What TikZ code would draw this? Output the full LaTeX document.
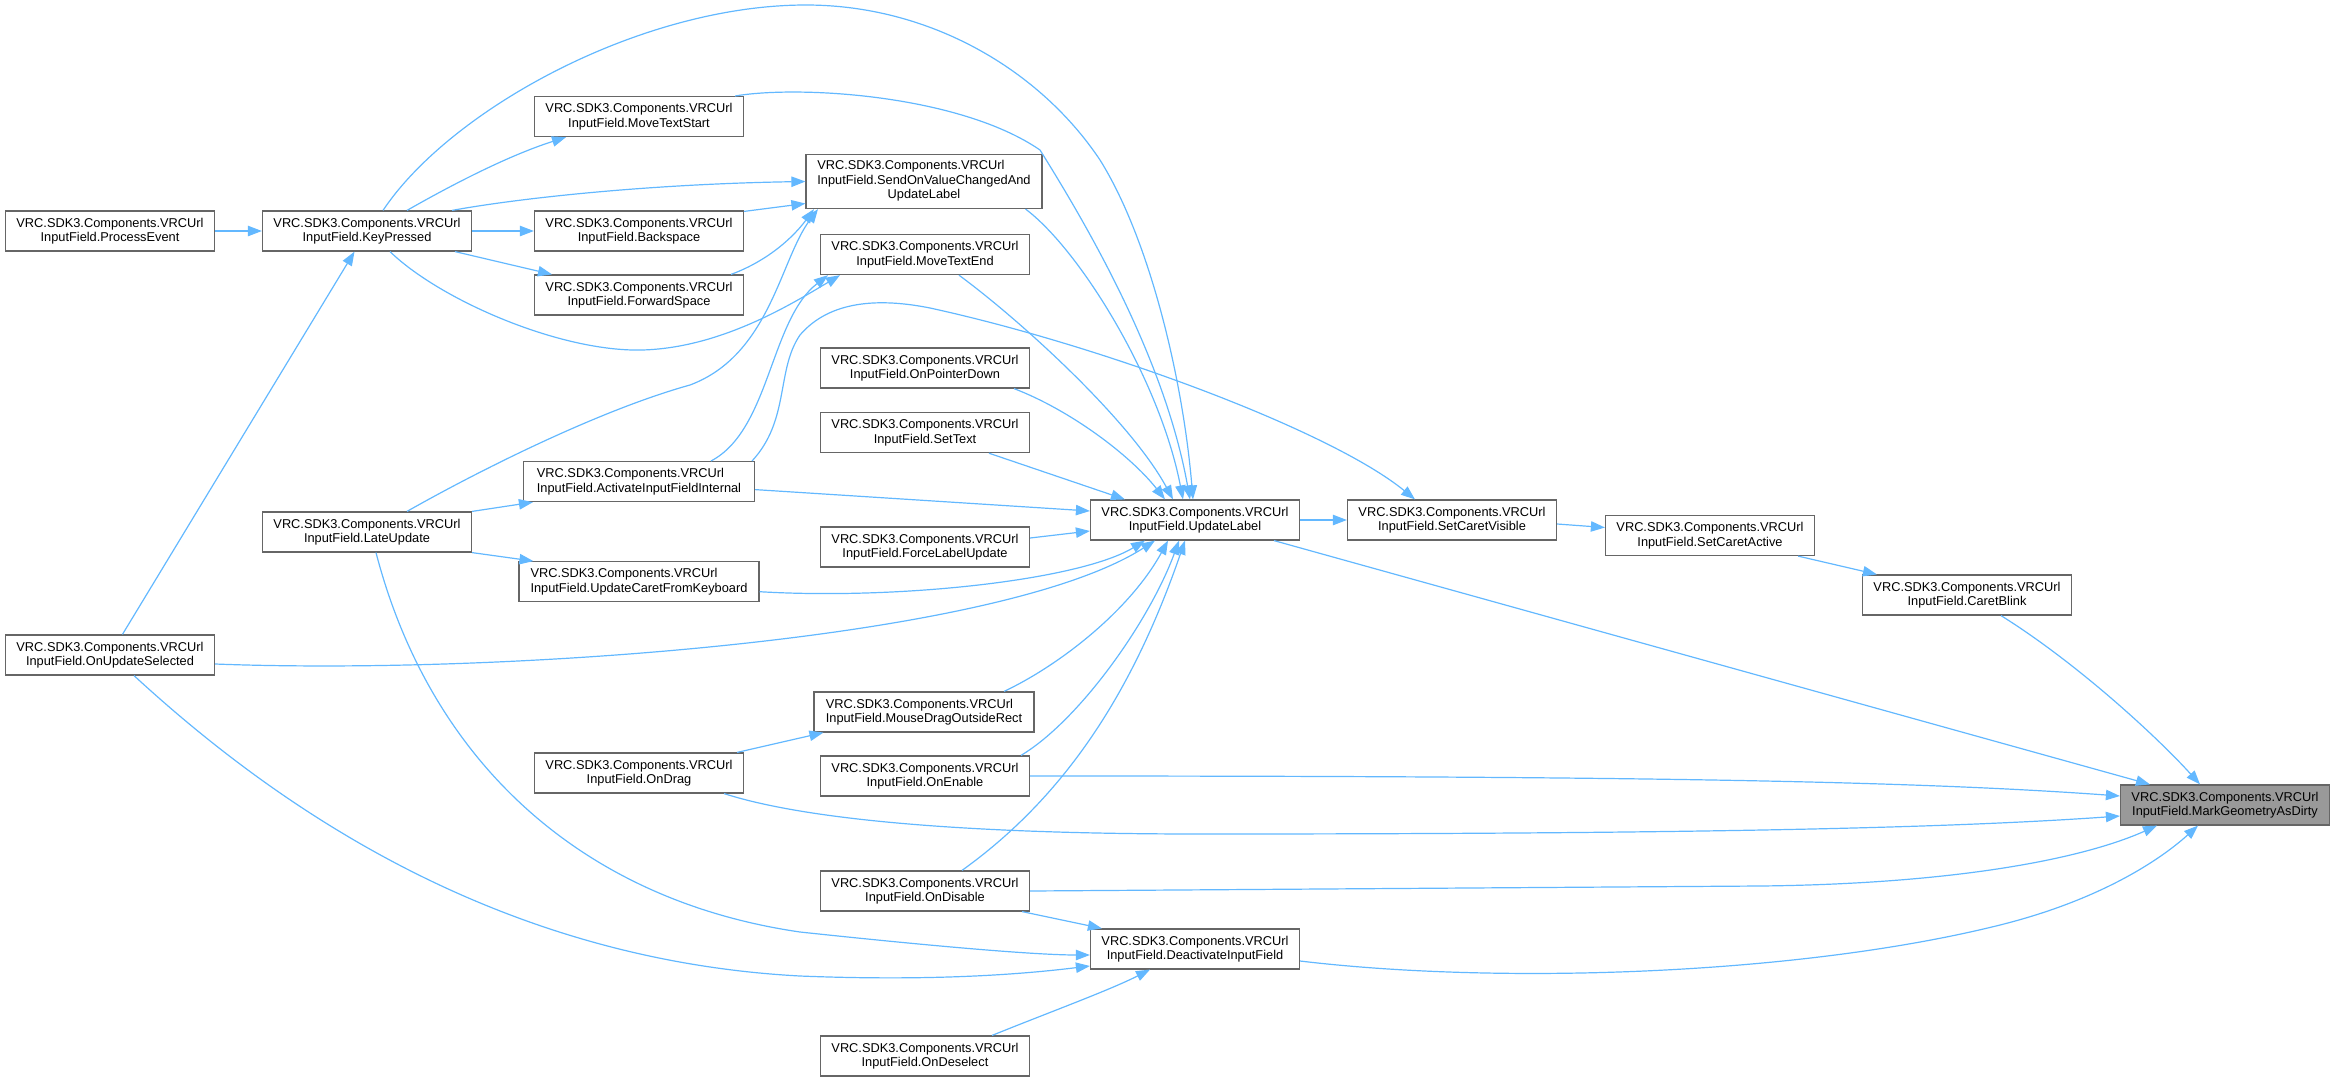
\documentclass[tikz,border=0pt]{standalone}
\usepackage{fontspec}
\setmainfont{Liberation Sans}
\usepackage{xcolor, tikz}
\usetikzlibrary{arrows.meta}
\usetikzlibrary{calc}

\definecolor{edgeblue}{RGB}{99,184,255}
\definecolor{boxgray}{RGB}{102,102,102}
\definecolor{rootgray}{RGB}{153,153,153}

\begin{document}
\begin{tikzpicture}[x=0.5pt, y=-0.5pt, >={Triangle[length=7pt,width=5.2pt]},
	fn/.style={draw=boxgray, line width=0.6pt, fill=white, minimum width=104.5pt, minimum height=20pt,
		inner xsep=5pt, inner ysep=1pt, align=center, font=\fontsize{6.4}{7.25}\selectfont},
	root/.style={fn, fill=rootgray},
	edge/.style={->, draw=edgeblue, line width=0.6pt}]
	\useasboundingbox (0,0) rectangle (2335,1082);

	%callers, left to right
	\node[fn] (pe) at (110,231) {VRC.SDK3.Components.VRCUrl\\InputField.ProcessEvent};
	\node[fn] (ous) at (110,655) {VRC.SDK3.Components.VRCUrl\\InputField.OnUpdateSelected};
	\node[fn] (kp) at (367,231) {VRC.SDK3.Components.VRCUrl\\InputField.KeyPressed};
	\node[fn] (lu) at (367,532) {VRC.SDK3.Components.VRCUrl\\InputField.LateUpdate};
	\node[fn] (mts) at (639,116.6) {VRC.SDK3.Components.VRCUrl\\InputField.MoveTextStart};
	\node[fn] (bs) at (639,231) {VRC.SDK3.Components.VRCUrl\\InputField.Backspace};
	\node[fn] (fs) at (639,295) {VRC.SDK3.Components.VRCUrl\\InputField.ForwardSpace};
	\node[fn, align=left, minimum width=115.5pt] (aifi) at (639,481.6) {VRC.SDK3.Components.VRCUrl\\InputField.ActivateInputFieldInternal};
	\node[fn, align=left, minimum width=120pt] (ucfk) at (639,581.7) {VRC.SDK3.Components.VRCUrl\\InputField.UpdateCaretFromKeyboard};
	\node[fn] (od) at (639,773) {VRC.SDK3.Components.VRCUrl\\InputField.OnDrag};
	\node[fn, minimum width=118pt, minimum height=27pt] (sov) at (924,181.5)
		{\begin{tabular}{@{}l@{}}VRC.SDK3.Components.VRCUrl\\InputField.SendOnValueChangedAnd\\\multicolumn{1}{@{}c@{}}{UpdateLabel}\end{tabular}};
	\node[fn] (mte) at (925,254.6) {VRC.SDK3.Components.VRCUrl\\InputField.MoveTextEnd};
	\node[fn] (opd) at (925,368) {VRC.SDK3.Components.VRCUrl\\InputField.OnPointerDown};
	\node[fn] (st) at (925,432.6) {VRC.SDK3.Components.VRCUrl\\InputField.SetText};
	\node[fn] (flu) at (925,547) {VRC.SDK3.Components.VRCUrl\\InputField.ForceLabelUpdate};
	\node[fn, align=left, minimum width=110pt] (mdor) at (924,712) {VRC.SDK3.Components.VRCUrl\\InputField.MouseDragOutsideRect};
	\node[fn] (oe) at (925,776) {VRC.SDK3.Components.VRCUrl\\InputField.OnEnable};
	\node[fn] (odis) at (925,891) {VRC.SDK3.Components.VRCUrl\\InputField.OnDisable};
	\node[fn] (odes) at (925,1056) {VRC.SDK3.Components.VRCUrl\\InputField.OnDeselect};
	\node[fn] (ul) at (1195,520) {VRC.SDK3.Components.VRCUrl\\InputField.UpdateLabel};
	\node[fn] (di) at (1195,949) {VRC.SDK3.Components.VRCUrl\\InputField.DeactivateInputField};
	\node[fn] (scv) at (1452,520) {VRC.SDK3.Components.VRCUrl\\InputField.SetCaretVisible};
	\node[fn] (sca) at (1710,535.5) {VRC.SDK3.Components.VRCUrl\\InputField.SetCaretActive};
	\node[fn] (cb) at (1967,595) {VRC.SDK3.Components.VRCUrl\\InputField.CaretBlink};
	\node[root] (mg) at (2225,805) {VRC.SDK3.Components.VRCUrl\\InputField.MarkGeometryAsDirty};

	%first columns
	\draw[edge] (pe) -- (kp);
	\draw[edge] (ous) -- (kp);
	\draw[edge] (kp) -- (bs);
	\draw[edge] ($(kp.north)+(40,0)$) .. controls (455,183) and (510,155) .. ($(mts.south)+(-73,0)$);
	\draw[edge] ($(kp.north)+(85,0)$) .. controls (520,198) and (650,184) .. (sov.west);
	\draw[edge] ($(kp.south)+(88,0)$) -- ($(fs.north)+(-87,0)$);
	\draw[edge] ($(kp.south)+(23,0)$) .. controls (440,300) and (560,352) .. (642,350)
		.. controls (720,348) and (790,305) .. ($(mte.south)+(-85,0)$);
	\draw[edge] ($(bs.north east)+(0,1)$) -- ($(sov.west)+(0,22)$);
	\draw[edge] ($(fs.north)+(92,0)$) .. controls (770,260) and (795,235) .. ($(sov.south)+(-110,0)$);
	\draw[edge] ($(lu.north)+(40,0)$) .. controls (480,470) and (600,410) .. (690,385)
		.. controls (770,355) and (780,260) .. ($(sov.south)+(-106,0)$);
	\draw[edge] (lu.north east) -- ($(aifi.south west)+(10,0)$);
	\draw[edge] (lu.south east) -- ($(ucfk.north west)+(15,0)$);
	\draw[edge] ($(aifi.north)+(72,0)$) .. controls (770,430) and (770,320) .. ($(mte.south)+(-97,0)$);
	\draw[edge] ($(od.north east)+(-7,0)$) -- ($(mdor.south west)+(10,0)$);

	%into UpdateLabel
	\draw[edge] ($(kp.north)+(16,0)$) .. controls (450,110) and (640,5) .. (806,5)
		.. controls (930,5) and (1040,70) .. (1100,160)
		.. controls (1150,240) and (1183,380) .. ($(ul.north)+(-2,0)$);
	\draw[edge] ($(mts.north east)+(-9,0)$) .. controls (800,85) and (960,95) .. (1040,150)
		.. controls (1090,230) and (1165,360) .. ($(ul.north)+(-5,0)$);
	\draw[edge] ($(sov.south east)+(-17,0)$) .. controls (1080,250) and (1160,380) .. ($(ul.north)+(-12,0)$);
	\draw[edge] ($(mte.south)+(34,0)$) .. controls (1020,320) and (1130,420) .. ($(ul.north)+(-22,0)$);
	\draw[edge] ($(opd.south)+(89,0)$) .. controls (1070,410) and (1130,455) .. ($(ul.north)+(-30,0)$);
	\draw[edge] ($(st.south)+(64,0)$) -- ($(ul.north)+(-70,0)$);
	\draw[edge] ($(aifi.east)+(0,8)$) -- ($(ul.west)+(0,-9)$);
	\draw[edge] ($(flu.east)+(0,-9)$) -- ($(ul.west)+(0,11)$);
	\draw[edge] ($(ucfk.east)+(0,10)$) .. controls (900,600) and (1080,580) .. ($(ul.south)+(-50,0)$);
	\draw[edge] ($(ous.east)+(0,9)$) .. controls (500,675) and (1000,640) .. ($(ul.south)+(-40,0)$);
	\draw[edge] ($(mdor.north)+(80,0)$) .. controls (1060,665) and (1130,610) .. ($(ul.south)+(-27,0)$);
	\draw[edge] ($(oe.north)+(96,0)$) .. controls (1080,720) and (1150,620) .. ($(ul.south)+(-16,0)$);
	\draw[edge] ($(odis.north)+(37,0)$) .. controls (1060,800) and (1130,700) .. ($(ul.south)+(-10,0)$);

	%into DeactivateInputField
	\draw[edge] ($(lu.south)+(9,0)$) .. controls (430,760) and (580,900) .. (800,932)
		.. controls (950,948) and (1040,955) .. ($(di.west)+(0,6)$);
	\draw[edge] ($(ous.south)+(24,0)$) .. controls (280,810) and (500,960) .. (800,976)
		.. controls (950,982) and (1040,972) .. ($(di.west)+(0,17)$);
	\draw[edge] ($(odis.south east)+(-8,0)$) -- ($(di.north west)+(12,0)$);
	\draw[edge] ($(odes.north)+(67,0)$) .. controls (1050,1012) and (1110,990) .. ($(di.south)+(-45,0)$);

	%caret chain
	\draw[edge] (ul) -- (scv);
	\draw[edge] ($(aifi.north)+(113,0)$) .. controls (790,420) and (776,370) .. (800,335)
		.. controls (830,300) and (880,298) .. (930,308)
		.. controls (1100,345) and (1330,430) .. ($(scv.north)+(-37,0)$);
	\draw[edge] ($(scv.east)+(0,4)$) -- ($(sca.west)+(0,-8)$);
	\draw[edge] ($(sca.south east)+(-17,0)$) -- ($(cb.north west)+(15,0)$);

	%into MarkGeometryAsDirty
	\draw[edge] ($(ul.south)+(79,0)$) -- ($(mg.north)+(-75,0)$);
	\draw[edge] ($(cb.south)+(34,0)$) .. controls (2080,665) and (2160,740) .. ($(mg.north)+(-25,0)$);
	\draw[edge] (oe.east) .. controls (1600,776) and (1900,780) .. ($(mg.west)+(0,-9)$);
	\draw[edge] ($(od.south east)+(-20,0)$) .. controls (800,818) and (950,834) .. (1200,834)
		.. controls (1700,834) and (1950,828) .. ($(mg.west)+(0,11)$);
	\draw[edge] (odis.east) -- (1760,886) .. controls (1950,884) and (2080,860) .. ($(mg.south)+(-68,0)$);
	\draw[edge] ($(di.east)+(0,12)$) .. controls (1500,985) and (1800,975) .. (2000,925)
		.. controls (2100,900) and (2160,860) .. ($(mg.south)+(-27,0)$);
\end{tikzpicture}
\end{document}
